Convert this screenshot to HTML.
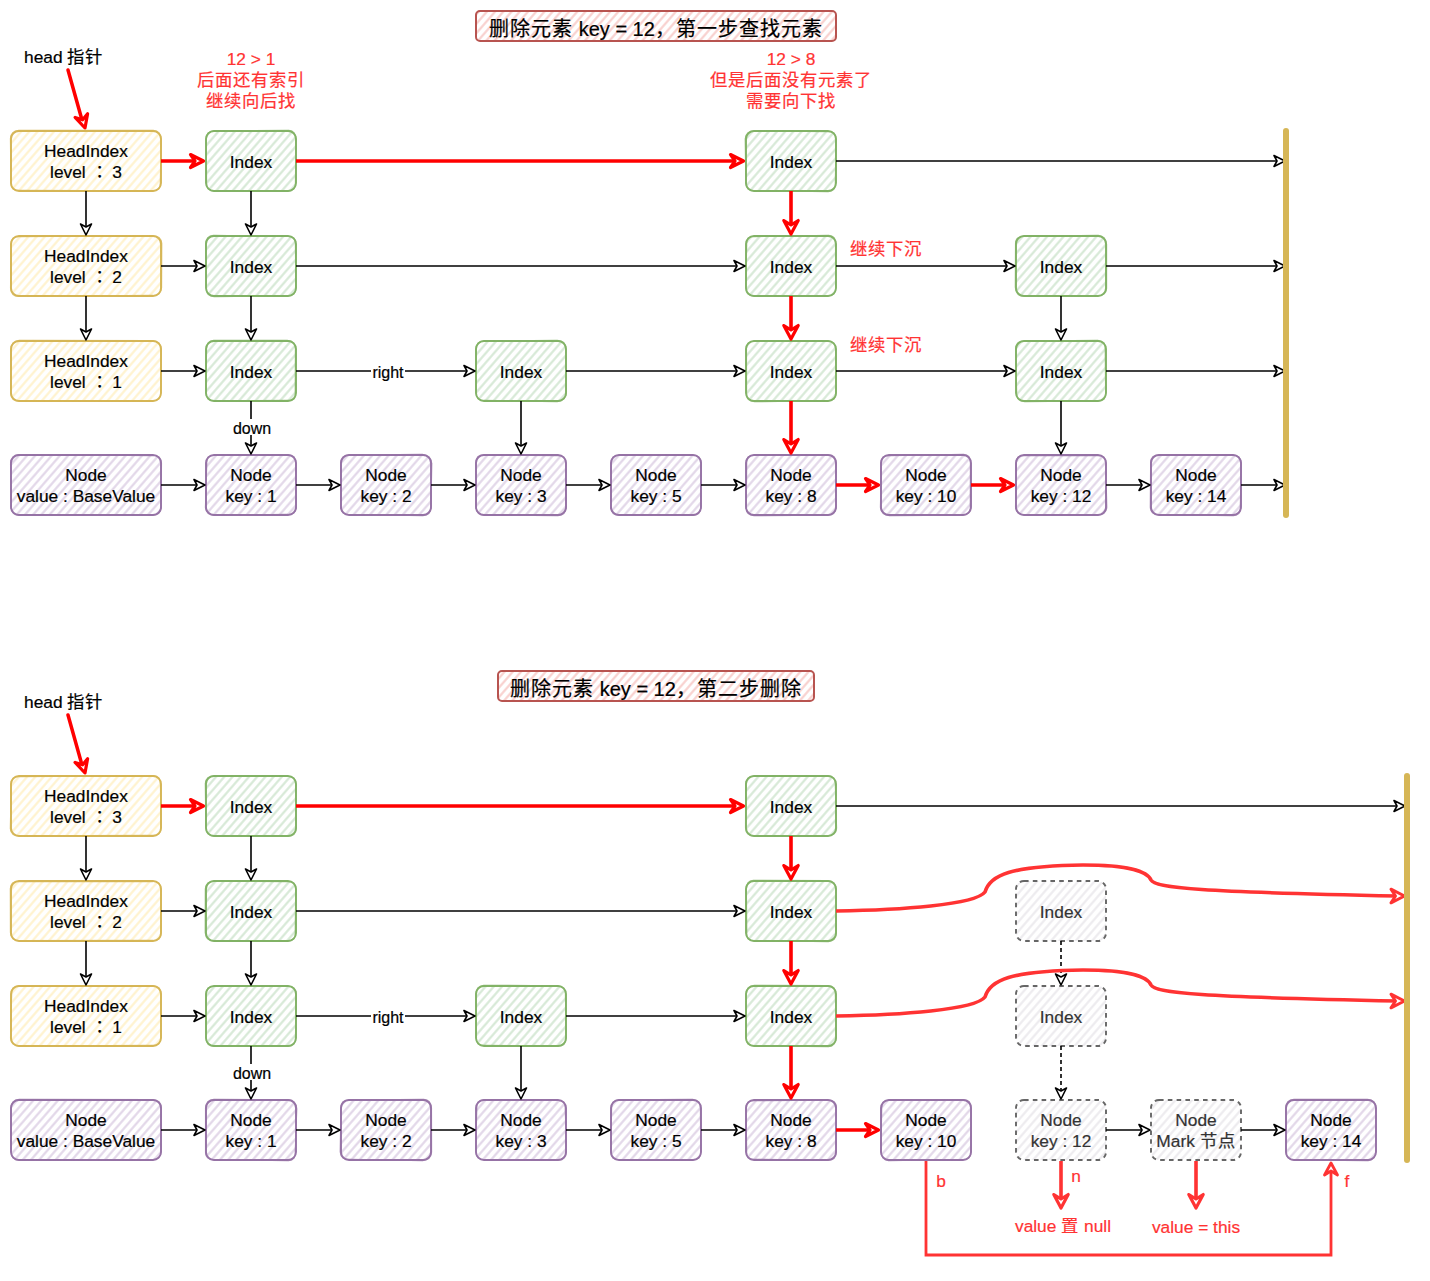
<!DOCTYPE html>
<html lang="zh-CN"><head><meta charset="utf-8"><title>skiplist delete</title>
<style>html,body{margin:0;padding:0;background:#fff;width:1430px;height:1281px;overflow:hidden;position:relative}</style>
</head><body>
<svg width="1430" height="1281" viewBox="0 0 1430 1281" style="position:absolute;left:0;top:0">
<defs>
<pattern id="hy" patternUnits="userSpaceOnUse" width="6.2" height="6.2" patternTransform="rotate(41)"><line x1="3.1" y1="-1" x2="3.1" y2="8" stroke="#fff2cc" stroke-width="2.1"/></pattern>
<pattern id="hg" patternUnits="userSpaceOnUse" width="6.2" height="6.2" patternTransform="rotate(41)"><line x1="3.1" y1="-1" x2="3.1" y2="8" stroke="#d5e8d4" stroke-width="2.1"/></pattern>
<pattern id="hp" patternUnits="userSpaceOnUse" width="6.2" height="6.2" patternTransform="rotate(41)"><line x1="3.1" y1="-1" x2="3.1" y2="8" stroke="#e1d5e7" stroke-width="2.1"/></pattern>
<pattern id="hr" patternUnits="userSpaceOnUse" width="6.2" height="6.2" patternTransform="rotate(41)"><line x1="3.1" y1="-1" x2="3.1" y2="8" stroke="#f8cecc" stroke-width="2.1"/></pattern>
<pattern id="hd" patternUnits="userSpaceOnUse" width="6.2" height="6.2" patternTransform="rotate(41)"><line x1="3.1" y1="-1" x2="3.1" y2="8" stroke="#eceaee" stroke-width="2.1"/></pattern>
</defs>
<style>text{stroke:currentColor;stroke-width:0.2px;paint-order:stroke}</style>
<g font-family='"Liberation Sans", sans-serif'>
<rect x="476" y="11" width="360" height="30" rx="4" fill="url(#hr)" stroke="#b85450" stroke-width="2"/>
<text x="656" y="35.5" fill="#000" color="#000" font-size="20" text-anchor="middle"><tspan letter-spacing="1.0">删除元素</tspan> key = 12<tspan letter-spacing="1.0">，第一步查找元素</tspan></text>
<rect x="498" y="671" width="316" height="30" rx="4" fill="url(#hr)" stroke="#b85450" stroke-width="2"/>
<text x="656" y="695.5" fill="#000" color="#000" font-size="20" text-anchor="middle"><tspan letter-spacing="1.0">删除元素</tspan> key = 12<tspan letter-spacing="1.0">，第二步删除</tspan></text>
<text x="251" y="64.92" fill="#ff3333" color="#ff3333" font-size="17.33" text-anchor="middle">12 &gt; 1</text>
<text x="251" y="85.72" fill="#ff3333" color="#ff3333" font-size="17.33" text-anchor="middle"><tspan letter-spacing="1.0">后面还有索引</tspan></text>
<text x="251" y="106.51" fill="#ff3333" color="#ff3333" font-size="17.33" text-anchor="middle"><tspan letter-spacing="1.0">继续向后找</tspan></text>
<text x="791" y="64.92" fill="#ff3333" color="#ff3333" font-size="17.33" text-anchor="middle">12 &gt; 8</text>
<text x="791" y="85.72" fill="#ff3333" color="#ff3333" font-size="17.33" text-anchor="middle"><tspan letter-spacing="1.0">但是后面没有元素了</tspan></text>
<text x="791" y="106.51" fill="#ff3333" color="#ff3333" font-size="17.33" text-anchor="middle"><tspan letter-spacing="1.0">需要向下找</tspan></text>
<text x="886" y="254.72" fill="#ff3333" color="#ff3333" font-size="17.33" text-anchor="middle"><tspan letter-spacing="1.0">继续下沉</tspan></text>
<text x="886" y="350.72" fill="#ff3333" color="#ff3333" font-size="17.33" text-anchor="middle"><tspan letter-spacing="1.0">继续下沉</tspan></text>
<text x="24" y="62.5" fill="#000" color="#000" font-size="17.33">head <tspan letter-spacing="1.0">指针</tspan></text>
<line x1="68" y1="70" x2="82" y2="120" stroke="#ff0000" stroke-width="3.5" stroke-linecap="round"/>
<path d="M85.0,128.0 L75.1,117.4 L82.6,119.8 L87.6,113.7 Z" fill="#fff" stroke="#ff0000" stroke-width="3.2" stroke-linejoin="round"/>
<rect x="11" y="131" width="150" height="60" rx="8" fill="url(#hy)" stroke="#d6b656" stroke-width="1.9"/>
<path d="M18.7,130.4 L153.2,130.3 Q161.0,131.0 161.1,138.8 L160.3,183.0 Q161.0,191.0 152.3,190.9 L18.3,190.3 Q11.0,191.0 10.9,183.5 L10.4,138.6 Q11.0,131.0 18.7,130.4 Z" fill="none" stroke="#d6b656" stroke-width="1.1" opacity="0.85"/>
<text x="86.0" y="157.32" fill="#000" color="#000" font-size="17.33" text-anchor="middle">HeadIndex</text>
<text x="86.0" y="178.12" fill="#000" color="#000" font-size="17.33" text-anchor="middle">level <tspan lang="zh-TW">：</tspan> 3</text>
<rect x="11" y="236" width="150" height="60" rx="8" fill="url(#hy)" stroke="#d6b656" stroke-width="1.9"/>
<path d="M19.2,236.7 L153.1,235.8 Q161.0,236.0 161.8,243.3 L161.6,287.7 Q161.0,296.0 152.4,295.4 L18.7,296.5 Q11.0,296.0 10.5,288.1 L11.2,243.8 Q11.0,236.0 19.2,236.7 Z" fill="none" stroke="#d6b656" stroke-width="1.1" opacity="0.85"/>
<text x="86.0" y="262.32" fill="#000" color="#000" font-size="17.33" text-anchor="middle">HeadIndex</text>
<text x="86.0" y="283.12" fill="#000" color="#000" font-size="17.33" text-anchor="middle">level <tspan lang="zh-TW">：</tspan> 2</text>
<rect x="11" y="341" width="150" height="60" rx="8" fill="url(#hy)" stroke="#d6b656" stroke-width="1.9"/>
<path d="M19.1,340.3 L152.3,340.5 Q161.0,341.0 161.3,348.9 L160.7,393.1 Q161.0,401.0 152.9,400.7 L19.5,401.3 Q11.0,401.0 10.6,393.1 L11.0,349.6 Q11.0,341.0 19.1,340.3 Z" fill="none" stroke="#d6b656" stroke-width="1.1" opacity="0.85"/>
<text x="86.0" y="367.32" fill="#000" color="#000" font-size="17.33" text-anchor="middle">HeadIndex</text>
<text x="86.0" y="388.12" fill="#000" color="#000" font-size="17.33" text-anchor="middle">level <tspan lang="zh-TW">：</tspan> 1</text>
<line x1="86" y1="191" x2="86" y2="230" stroke="#000" stroke-width="1.6"/>
<path d="M86.0,235.0 L80.5,224.0 L86.0,227.0 L91.5,224.0 Z" fill="#fff" stroke="#000" stroke-width="1.6" stroke-linejoin="round"/>
<line x1="86" y1="296" x2="86" y2="335" stroke="#000" stroke-width="1.6"/>
<path d="M86.0,340.0 L80.5,329.0 L86.0,332.0 L91.5,329.0 Z" fill="#fff" stroke="#000" stroke-width="1.6" stroke-linejoin="round"/>
<rect x="206" y="131" width="90" height="60" rx="8" fill="url(#hg)" stroke="#82b366" stroke-width="1.9"/>
<path d="M214.4,130.7 L288.8,130.4 Q296.0,131.0 295.9,139.4 L295.4,183.0 Q296.0,191.0 287.3,191.3 L214.4,191.1 Q206.0,191.0 206.6,182.7 L206.3,139.2 Q206.0,131.0 214.4,130.7 Z" fill="none" stroke="#82b366" stroke-width="1.1" opacity="0.85"/>
<text x="251.0" y="167.72" fill="#000" color="#000" font-size="17.33" text-anchor="middle">Index</text>
<rect x="746" y="131" width="90" height="60" rx="8" fill="url(#hg)" stroke="#82b366" stroke-width="1.9"/>
<path d="M754.1,130.9 L828.5,131.7 Q836.0,131.0 836.0,139.3 L835.3,183.3 Q836.0,191.0 828.2,191.8 L754.5,190.7 Q746.0,191.0 745.8,183.3 L745.2,138.9 Q746.0,131.0 754.1,130.9 Z" fill="none" stroke="#82b366" stroke-width="1.1" opacity="0.85"/>
<text x="791.0" y="167.72" fill="#000" color="#000" font-size="17.33" text-anchor="middle">Index</text>
<rect x="206" y="236" width="90" height="60" rx="8" fill="url(#hg)" stroke="#82b366" stroke-width="1.9"/>
<path d="M213.5,235.4 L287.3,236.4 Q296.0,236.0 295.4,243.6 L295.8,288.6 Q296.0,296.0 287.3,295.9 L214.1,296.6 Q206.0,296.0 206.5,288.6 L205.6,243.9 Q206.0,236.0 213.5,235.4 Z" fill="none" stroke="#82b366" stroke-width="1.1" opacity="0.85"/>
<text x="251.0" y="272.72" fill="#000" color="#000" font-size="17.33" text-anchor="middle">Index</text>
<rect x="746" y="236" width="90" height="60" rx="8" fill="url(#hg)" stroke="#82b366" stroke-width="1.9"/>
<path d="M753.8,236.6 L828.7,235.4 Q836.0,236.0 835.5,243.6 L835.6,288.0 Q836.0,296.0 828.1,295.6 L753.2,295.9 Q746.0,296.0 745.8,288.1 L746.7,244.3 Q746.0,236.0 753.8,236.6 Z" fill="none" stroke="#82b366" stroke-width="1.1" opacity="0.85"/>
<text x="791.0" y="272.72" fill="#000" color="#000" font-size="17.33" text-anchor="middle">Index</text>
<rect x="1016" y="236" width="90" height="60" rx="8" fill="url(#hg)" stroke="#82b366" stroke-width="1.9"/>
<path d="M1024.0,236.2 L1098.3,235.3 Q1106.0,236.0 1106.6,244.4 L1106.6,288.5 Q1106.0,296.0 1097.8,295.8 L1023.4,296.2 Q1016.0,296.0 1015.3,287.3 L1015.5,243.5 Q1016.0,236.0 1024.0,236.2 Z" fill="none" stroke="#82b366" stroke-width="1.1" opacity="0.85"/>
<text x="1061.0" y="272.72" fill="#000" color="#000" font-size="17.33" text-anchor="middle">Index</text>
<rect x="206" y="341" width="90" height="60" rx="8" fill="url(#hg)" stroke="#82b366" stroke-width="1.9"/>
<path d="M213.7,340.3 L287.2,340.4 Q296.0,341.0 295.4,348.8 L295.2,393.6 Q296.0,401.0 288.2,400.4 L213.6,400.8 Q206.0,401.0 205.8,392.4 L206.6,349.8 Q206.0,341.0 213.7,340.3 Z" fill="none" stroke="#82b366" stroke-width="1.1" opacity="0.85"/>
<text x="251.0" y="377.72" fill="#000" color="#000" font-size="17.33" text-anchor="middle">Index</text>
<rect x="476" y="341" width="90" height="60" rx="8" fill="url(#hg)" stroke="#82b366" stroke-width="1.9"/>
<path d="M483.9,341.0 L557.3,340.4 Q566.0,341.0 565.7,348.6 L566.5,392.5 Q566.0,401.0 557.2,401.7 L484.0,400.4 Q476.0,401.0 476.1,392.2 L476.0,349.8 Q476.0,341.0 483.9,341.0 Z" fill="none" stroke="#82b366" stroke-width="1.1" opacity="0.85"/>
<text x="521.0" y="377.72" fill="#000" color="#000" font-size="17.33" text-anchor="middle">Index</text>
<rect x="746" y="341" width="90" height="60" rx="8" fill="url(#hg)" stroke="#82b366" stroke-width="1.9"/>
<path d="M754.6,341.3 L827.6,340.8 Q836.0,341.0 835.5,349.4 L836.1,393.4 Q836.0,401.0 827.7,400.6 L754.5,401.8 Q746.0,401.0 746.6,393.5 L746.5,349.4 Q746.0,341.0 754.6,341.3 Z" fill="none" stroke="#82b366" stroke-width="1.1" opacity="0.85"/>
<text x="791.0" y="377.72" fill="#000" color="#000" font-size="17.33" text-anchor="middle">Index</text>
<rect x="1016" y="341" width="90" height="60" rx="8" fill="url(#hg)" stroke="#82b366" stroke-width="1.9"/>
<path d="M1023.6,341.0 L1097.8,340.2 Q1106.0,341.0 1105.2,348.6 L1105.6,393.3 Q1106.0,401.0 1098.7,400.9 L1024.7,401.8 Q1016.0,401.0 1016.7,392.8 L1015.6,348.6 Q1016.0,341.0 1023.6,341.0 Z" fill="none" stroke="#82b366" stroke-width="1.1" opacity="0.85"/>
<text x="1061.0" y="377.72" fill="#000" color="#000" font-size="17.33" text-anchor="middle">Index</text>
<rect x="11" y="455" width="150" height="60" rx="8" fill="url(#hp)" stroke="#9673a6" stroke-width="1.9"/>
<path d="M18.5,454.5 L153.2,455.6 Q161.0,455.0 161.5,463.0 L161.2,507.5 Q161.0,515.0 152.3,515.3 L19.7,515.5 Q11.0,515.0 11.4,507.0 L10.5,463.5 Q11.0,455.0 18.5,454.5 Z" fill="none" stroke="#9673a6" stroke-width="1.1" opacity="0.85"/>
<text x="86.0" y="481.32" fill="#000" color="#000" font-size="17.33" text-anchor="middle">Node</text>
<text x="86.0" y="502.12" fill="#000" color="#000" font-size="17.33" text-anchor="middle">value : BaseValue</text>
<rect x="206" y="455" width="90" height="60" rx="8" fill="url(#hp)" stroke="#9673a6" stroke-width="1.9"/>
<path d="M213.7,455.5 L288.8,454.8 Q296.0,455.0 295.8,463.7 L296.4,506.5 Q296.0,515.0 287.4,514.4 L214.6,515.5 Q206.0,515.0 205.4,507.5 L206.8,463.3 Q206.0,455.0 213.7,455.5 Z" fill="none" stroke="#9673a6" stroke-width="1.1" opacity="0.85"/>
<text x="251.0" y="481.32" fill="#000" color="#000" font-size="17.33" text-anchor="middle">Node</text>
<text x="251.0" y="502.12" fill="#000" color="#000" font-size="17.33" text-anchor="middle">key : 1</text>
<rect x="341" y="455" width="90" height="60" rx="8" fill="url(#hp)" stroke="#9673a6" stroke-width="1.9"/>
<path d="M348.8,455.1 L422.4,454.2 Q431.0,455.0 431.8,463.2 L431.0,507.7 Q431.0,515.0 422.9,515.6 L349.5,514.5 Q341.0,515.0 340.6,506.7 L340.6,463.1 Q341.0,455.0 348.8,455.1 Z" fill="none" stroke="#9673a6" stroke-width="1.1" opacity="0.85"/>
<text x="386.0" y="481.32" fill="#000" color="#000" font-size="17.33" text-anchor="middle">Node</text>
<text x="386.0" y="502.12" fill="#000" color="#000" font-size="17.33" text-anchor="middle">key : 2</text>
<rect x="476" y="455" width="90" height="60" rx="8" fill="url(#hp)" stroke="#9673a6" stroke-width="1.9"/>
<path d="M483.6,454.9 L557.4,455.7 Q566.0,455.0 565.8,462.9 L566.1,507.6 Q566.0,515.0 557.9,515.7 L484.0,515.1 Q476.0,515.0 476.0,506.2 L475.9,462.5 Q476.0,455.0 483.6,454.9 Z" fill="none" stroke="#9673a6" stroke-width="1.1" opacity="0.85"/>
<text x="521.0" y="481.32" fill="#000" color="#000" font-size="17.33" text-anchor="middle">Node</text>
<text x="521.0" y="502.12" fill="#000" color="#000" font-size="17.33" text-anchor="middle">key : 3</text>
<rect x="611" y="455" width="90" height="60" rx="8" fill="url(#hp)" stroke="#9673a6" stroke-width="1.9"/>
<path d="M618.2,455.5 L692.5,455.0 Q701.0,455.0 701.4,463.1 L700.7,507.0 Q701.0,515.0 693.1,515.5 L618.4,515.1 Q611.0,515.0 610.6,506.6 L611.4,463.0 Q611.0,455.0 618.2,455.5 Z" fill="none" stroke="#9673a6" stroke-width="1.1" opacity="0.85"/>
<text x="656.0" y="481.32" fill="#000" color="#000" font-size="17.33" text-anchor="middle">Node</text>
<text x="656.0" y="502.12" fill="#000" color="#000" font-size="17.33" text-anchor="middle">key : 5</text>
<rect x="746" y="455" width="90" height="60" rx="8" fill="url(#hp)" stroke="#9673a6" stroke-width="1.9"/>
<path d="M754.1,455.4 L828.7,454.9 Q836.0,455.0 836.2,463.0 L836.0,507.3 Q836.0,515.0 827.9,515.1 L754.0,515.7 Q746.0,515.0 746.3,507.6 L746.7,462.6 Q746.0,455.0 754.1,455.4 Z" fill="none" stroke="#9673a6" stroke-width="1.1" opacity="0.85"/>
<text x="791.0" y="481.32" fill="#000" color="#000" font-size="17.33" text-anchor="middle">Node</text>
<text x="791.0" y="502.12" fill="#000" color="#000" font-size="17.33" text-anchor="middle">key : 8</text>
<rect x="881" y="455" width="90" height="60" rx="8" fill="url(#hp)" stroke="#9673a6" stroke-width="1.9"/>
<path d="M889.1,455.7 L963.5,454.4 Q971.0,455.0 970.4,462.9 L970.3,506.6 Q971.0,515.0 962.3,515.3 L889.5,515.6 Q881.0,515.0 880.4,507.3 L881.3,462.4 Q881.0,455.0 889.1,455.7 Z" fill="none" stroke="#9673a6" stroke-width="1.1" opacity="0.85"/>
<text x="926.0" y="481.32" fill="#000" color="#000" font-size="17.33" text-anchor="middle">Node</text>
<text x="926.0" y="502.12" fill="#000" color="#000" font-size="17.33" text-anchor="middle">key : 10</text>
<rect x="1016" y="455" width="90" height="60" rx="8" fill="url(#hp)" stroke="#9673a6" stroke-width="1.9"/>
<path d="M1024.6,455.7 L1097.6,455.7 Q1106.0,455.0 1105.8,463.0 L1106.8,507.5 Q1106.0,515.0 1097.5,514.9 L1024.0,514.7 Q1016.0,515.0 1015.5,506.7 L1016.4,462.2 Q1016.0,455.0 1024.6,455.7 Z" fill="none" stroke="#9673a6" stroke-width="1.1" opacity="0.85"/>
<text x="1061.0" y="481.32" fill="#000" color="#000" font-size="17.33" text-anchor="middle">Node</text>
<text x="1061.0" y="502.12" fill="#000" color="#000" font-size="17.33" text-anchor="middle">key : 12</text>
<rect x="1151" y="455" width="90" height="60" rx="8" fill="url(#hp)" stroke="#9673a6" stroke-width="1.9"/>
<path d="M1159.1,454.9 L1232.2,454.7 Q1241.0,455.0 1241.2,463.0 L1240.3,507.8 Q1241.0,515.0 1233.5,515.8 L1158.4,514.6 Q1151.0,515.0 1150.3,507.4 L1150.6,462.4 Q1151.0,455.0 1159.1,454.9 Z" fill="none" stroke="#9673a6" stroke-width="1.1" opacity="0.85"/>
<text x="1196.0" y="481.32" fill="#000" color="#000" font-size="17.33" text-anchor="middle">Node</text>
<text x="1196.0" y="502.12" fill="#000" color="#000" font-size="17.33" text-anchor="middle">key : 14</text>
<line x1="161" y1="161" x2="196" y2="161" stroke="#ff0000" stroke-width="3.6"/>
<path d="M203.5,161.0 L190.5,167.5 L195.0,161.0 L190.5,154.5 Z" fill="#fff" stroke="#ff0000" stroke-width="3.2" stroke-linejoin="round"/>
<line x1="296" y1="161" x2="736" y2="161" stroke="#ff0000" stroke-width="3.6"/>
<path d="M743.5,161.0 L730.5,167.5 L735.0,161.0 L730.5,154.5 Z" fill="#fff" stroke="#ff0000" stroke-width="3.2" stroke-linejoin="round"/>
<line x1="836" y1="161" x2="1280" y2="161" stroke="#000" stroke-width="1.6"/>
<path d="M1285.0,161.0 L1274.0,166.5 L1277.0,161.0 L1274.0,155.5 Z" fill="#fff" stroke="#000" stroke-width="1.6" stroke-linejoin="round"/>
<line x1="251" y1="191" x2="251" y2="230" stroke="#000" stroke-width="1.6"/>
<path d="M251.0,235.0 L245.5,224.0 L251.0,227.0 L256.5,224.0 Z" fill="#fff" stroke="#000" stroke-width="1.6" stroke-linejoin="round"/>
<line x1="251" y1="296" x2="251" y2="335" stroke="#000" stroke-width="1.6"/>
<path d="M251.0,340.0 L245.5,329.0 L251.0,332.0 L256.5,329.0 Z" fill="#fff" stroke="#000" stroke-width="1.6" stroke-linejoin="round"/>
<line x1="251" y1="401" x2="251" y2="449" stroke="#000" stroke-width="1.6"/>
<path d="M251.0,454.0 L245.5,443.0 L251.0,446.0 L256.5,443.0 Z" fill="#fff" stroke="#000" stroke-width="1.6" stroke-linejoin="round"/>
<rect x="232" y="419" width="40" height="16" fill="#fff"/>
<text x="252" y="433.5" fill="#000" color="#000" font-size="16" text-anchor="middle">down</text>
<line x1="791" y1="191" x2="791" y2="226" stroke="#ff0000" stroke-width="3.6"/>
<path d="M791.0,234.0 L783.8,220.5 L791.0,225.0 L798.2,220.5 Z" fill="#fff" stroke="#ff0000" stroke-width="3.2" stroke-linejoin="round"/>
<line x1="791" y1="296" x2="791" y2="331" stroke="#ff0000" stroke-width="3.6"/>
<path d="M791.0,339.0 L783.8,325.5 L791.0,330.0 L798.2,325.5 Z" fill="#fff" stroke="#ff0000" stroke-width="3.2" stroke-linejoin="round"/>
<line x1="791" y1="401" x2="791" y2="445" stroke="#ff0000" stroke-width="3.6"/>
<path d="M791.0,453.0 L783.8,439.5 L791.0,444.0 L798.2,439.5 Z" fill="#fff" stroke="#ff0000" stroke-width="3.2" stroke-linejoin="round"/>
<line x1="521" y1="401" x2="521" y2="449" stroke="#000" stroke-width="1.6"/>
<path d="M521.0,454.0 L515.5,443.0 L521.0,446.0 L526.5,443.0 Z" fill="#fff" stroke="#000" stroke-width="1.6" stroke-linejoin="round"/>
<line x1="161" y1="266" x2="200" y2="266" stroke="#000" stroke-width="1.6"/>
<path d="M205.0,266.0 L194.0,271.5 L197.0,266.0 L194.0,260.5 Z" fill="#fff" stroke="#000" stroke-width="1.6" stroke-linejoin="round"/>
<line x1="296" y1="266" x2="740" y2="266" stroke="#000" stroke-width="1.6"/>
<path d="M745.0,266.0 L734.0,271.5 L737.0,266.0 L734.0,260.5 Z" fill="#fff" stroke="#000" stroke-width="1.6" stroke-linejoin="round"/>
<line x1="161" y1="371" x2="200" y2="371" stroke="#000" stroke-width="1.6"/>
<path d="M205.0,371.0 L194.0,376.5 L197.0,371.0 L194.0,365.5 Z" fill="#fff" stroke="#000" stroke-width="1.6" stroke-linejoin="round"/>
<line x1="296" y1="371" x2="470" y2="371" stroke="#000" stroke-width="1.6"/>
<path d="M475.0,371.0 L464.0,376.5 L467.0,371.0 L464.0,365.5 Z" fill="#fff" stroke="#000" stroke-width="1.6" stroke-linejoin="round"/>
<rect x="371" y="362" width="34" height="18" fill="#fff"/>
<text x="388" y="377.8" fill="#000" color="#000" font-size="16" text-anchor="middle">right</text>
<line x1="566" y1="371" x2="740" y2="371" stroke="#000" stroke-width="1.6"/>
<path d="M745.0,371.0 L734.0,376.5 L737.0,371.0 L734.0,365.5 Z" fill="#fff" stroke="#000" stroke-width="1.6" stroke-linejoin="round"/>
<line x1="836" y1="266" x2="1010" y2="266" stroke="#000" stroke-width="1.6"/>
<path d="M1015.0,266.0 L1004.0,271.5 L1007.0,266.0 L1004.0,260.5 Z" fill="#fff" stroke="#000" stroke-width="1.6" stroke-linejoin="round"/>
<line x1="1106" y1="266" x2="1280" y2="266" stroke="#000" stroke-width="1.6"/>
<path d="M1285.0,266.0 L1274.0,271.5 L1277.0,266.0 L1274.0,260.5 Z" fill="#fff" stroke="#000" stroke-width="1.6" stroke-linejoin="round"/>
<line x1="836" y1="371" x2="1010" y2="371" stroke="#000" stroke-width="1.6"/>
<path d="M1015.0,371.0 L1004.0,376.5 L1007.0,371.0 L1004.0,365.5 Z" fill="#fff" stroke="#000" stroke-width="1.6" stroke-linejoin="round"/>
<line x1="1106" y1="371" x2="1280" y2="371" stroke="#000" stroke-width="1.6"/>
<path d="M1285.0,371.0 L1274.0,376.5 L1277.0,371.0 L1274.0,365.5 Z" fill="#fff" stroke="#000" stroke-width="1.6" stroke-linejoin="round"/>
<line x1="1061" y1="296" x2="1061" y2="335" stroke="#000" stroke-width="1.6"/>
<path d="M1061.0,340.0 L1055.5,329.0 L1061.0,332.0 L1066.5,329.0 Z" fill="#fff" stroke="#000" stroke-width="1.6" stroke-linejoin="round"/>
<line x1="1061" y1="401" x2="1061" y2="449" stroke="#000" stroke-width="1.6"/>
<path d="M1061.0,454.0 L1055.5,443.0 L1061.0,446.0 L1066.5,443.0 Z" fill="#fff" stroke="#000" stroke-width="1.6" stroke-linejoin="round"/>
<line x1="161" y1="485" x2="200" y2="485" stroke="#000" stroke-width="1.6"/>
<path d="M205.0,485.0 L194.0,490.5 L197.0,485.0 L194.0,479.5 Z" fill="#fff" stroke="#000" stroke-width="1.6" stroke-linejoin="round"/>
<line x1="296" y1="485" x2="335" y2="485" stroke="#000" stroke-width="1.6"/>
<path d="M340.0,485.0 L329.0,490.5 L332.0,485.0 L329.0,479.5 Z" fill="#fff" stroke="#000" stroke-width="1.6" stroke-linejoin="round"/>
<line x1="431" y1="485" x2="470" y2="485" stroke="#000" stroke-width="1.6"/>
<path d="M475.0,485.0 L464.0,490.5 L467.0,485.0 L464.0,479.5 Z" fill="#fff" stroke="#000" stroke-width="1.6" stroke-linejoin="round"/>
<line x1="566" y1="485" x2="605" y2="485" stroke="#000" stroke-width="1.6"/>
<path d="M610.0,485.0 L599.0,490.5 L602.0,485.0 L599.0,479.5 Z" fill="#fff" stroke="#000" stroke-width="1.6" stroke-linejoin="round"/>
<line x1="701" y1="485" x2="740" y2="485" stroke="#000" stroke-width="1.6"/>
<path d="M745.0,485.0 L734.0,490.5 L737.0,485.0 L734.0,479.5 Z" fill="#fff" stroke="#000" stroke-width="1.6" stroke-linejoin="round"/>
<line x1="1106" y1="485" x2="1145" y2="485" stroke="#000" stroke-width="1.6"/>
<path d="M1150.0,485.0 L1139.0,490.5 L1142.0,485.0 L1139.0,479.5 Z" fill="#fff" stroke="#000" stroke-width="1.6" stroke-linejoin="round"/>
<line x1="1241" y1="485" x2="1280" y2="485" stroke="#000" stroke-width="1.6"/>
<path d="M1285.0,485.0 L1274.0,490.5 L1277.0,485.0 L1274.0,479.5 Z" fill="#fff" stroke="#000" stroke-width="1.6" stroke-linejoin="round"/>
<line x1="836" y1="485" x2="871" y2="485" stroke="#ff0000" stroke-width="3.6"/>
<path d="M878.5,485.0 L865.5,491.5 L870.0,485.0 L865.5,478.5 Z" fill="#fff" stroke="#ff0000" stroke-width="3.2" stroke-linejoin="round"/>
<line x1="971" y1="485" x2="1006" y2="485" stroke="#ff0000" stroke-width="3.6"/>
<path d="M1013.5,485.0 L1000.5,491.5 L1005.0,485.0 L1000.5,478.5 Z" fill="#fff" stroke="#ff0000" stroke-width="3.2" stroke-linejoin="round"/>
<line x1="1286" y1="131" x2="1286" y2="515" stroke="#d6b656" stroke-width="6" stroke-linecap="round"/>
<text x="24" y="707.5" fill="#000" color="#000" font-size="17.33">head <tspan letter-spacing="1.0">指针</tspan></text>
<line x1="68" y1="715" x2="82" y2="765" stroke="#ff0000" stroke-width="3.5" stroke-linecap="round"/>
<path d="M85.0,773.0 L75.1,762.4 L82.6,764.8 L87.6,758.7 Z" fill="#fff" stroke="#ff0000" stroke-width="3.2" stroke-linejoin="round"/>
<rect x="11" y="776" width="150" height="60" rx="8" fill="url(#hy)" stroke="#d6b656" stroke-width="1.9"/>
<path d="M18.9,776.7 L153.5,775.6 Q161.0,776.0 160.4,784.7 L161.1,828.3 Q161.0,836.0 152.3,835.3 L19.3,835.9 Q11.0,836.0 10.3,828.7 L11.2,784.5 Q11.0,776.0 18.9,776.7 Z" fill="none" stroke="#d6b656" stroke-width="1.1" opacity="0.85"/>
<text x="86.0" y="802.32" fill="#000" color="#000" font-size="17.33" text-anchor="middle">HeadIndex</text>
<text x="86.0" y="823.12" fill="#000" color="#000" font-size="17.33" text-anchor="middle">level <tspan lang="zh-TW">：</tspan> 3</text>
<rect x="11" y="881" width="150" height="60" rx="8" fill="url(#hy)" stroke="#d6b656" stroke-width="1.9"/>
<path d="M18.3,881.6 L152.3,881.6 Q161.0,881.0 160.9,888.7 L161.1,933.7 Q161.0,941.0 152.6,940.4 L19.0,940.6 Q11.0,941.0 10.4,932.5 L10.3,888.5 Q11.0,881.0 18.3,881.6 Z" fill="none" stroke="#d6b656" stroke-width="1.1" opacity="0.85"/>
<text x="86.0" y="907.32" fill="#000" color="#000" font-size="17.33" text-anchor="middle">HeadIndex</text>
<text x="86.0" y="928.12" fill="#000" color="#000" font-size="17.33" text-anchor="middle">level <tspan lang="zh-TW">：</tspan> 2</text>
<rect x="11" y="986" width="150" height="60" rx="8" fill="url(#hy)" stroke="#d6b656" stroke-width="1.9"/>
<path d="M18.7,985.7 L153.4,985.7 Q161.0,986.0 161.0,993.5 L160.8,1037.2 Q161.0,1046.0 152.6,1045.2 L19.4,1046.1 Q11.0,1046.0 10.5,1038.0 L11.7,993.4 Q11.0,986.0 18.7,985.7 Z" fill="none" stroke="#d6b656" stroke-width="1.1" opacity="0.85"/>
<text x="86.0" y="1012.32" fill="#000" color="#000" font-size="17.33" text-anchor="middle">HeadIndex</text>
<text x="86.0" y="1033.12" fill="#000" color="#000" font-size="17.33" text-anchor="middle">level <tspan lang="zh-TW">：</tspan> 1</text>
<line x1="86" y1="836" x2="86" y2="875" stroke="#000" stroke-width="1.6"/>
<path d="M86.0,880.0 L80.5,869.0 L86.0,872.0 L91.5,869.0 Z" fill="#fff" stroke="#000" stroke-width="1.6" stroke-linejoin="round"/>
<line x1="86" y1="941" x2="86" y2="980" stroke="#000" stroke-width="1.6"/>
<path d="M86.0,985.0 L80.5,974.0 L86.0,977.0 L91.5,974.0 Z" fill="#fff" stroke="#000" stroke-width="1.6" stroke-linejoin="round"/>
<rect x="206" y="776" width="90" height="60" rx="8" fill="url(#hg)" stroke="#82b366" stroke-width="1.9"/>
<path d="M214.5,775.9 L288.0,776.5 Q296.0,776.0 295.8,784.0 L296.3,828.8 Q296.0,836.0 287.7,836.5 L214.3,836.2 Q206.0,836.0 205.8,827.8 L205.3,783.4 Q206.0,776.0 214.5,775.9 Z" fill="none" stroke="#82b366" stroke-width="1.1" opacity="0.85"/>
<text x="251.0" y="812.72" fill="#000" color="#000" font-size="17.33" text-anchor="middle">Index</text>
<rect x="746" y="776" width="90" height="60" rx="8" fill="url(#hg)" stroke="#82b366" stroke-width="1.9"/>
<path d="M753.3,776.4 L827.6,775.5 Q836.0,776.0 835.3,784.5 L836.6,828.3 Q836.0,836.0 827.7,835.6 L753.7,835.9 Q746.0,836.0 745.5,827.9 L745.6,784.7 Q746.0,776.0 753.3,776.4 Z" fill="none" stroke="#82b366" stroke-width="1.1" opacity="0.85"/>
<text x="791.0" y="812.72" fill="#000" color="#000" font-size="17.33" text-anchor="middle">Index</text>
<rect x="206" y="881" width="90" height="60" rx="8" fill="url(#hg)" stroke="#82b366" stroke-width="1.9"/>
<path d="M214.8,881.1 L287.6,881.7 Q296.0,881.0 295.7,888.8 L295.2,932.8 Q296.0,941.0 288.0,941.0 L213.5,941.0 Q206.0,941.0 205.2,932.6 L205.3,888.8 Q206.0,881.0 214.8,881.1 Z" fill="none" stroke="#82b366" stroke-width="1.1" opacity="0.85"/>
<text x="251.0" y="917.72" fill="#000" color="#000" font-size="17.33" text-anchor="middle">Index</text>
<rect x="746" y="881" width="90" height="60" rx="8" fill="url(#hg)" stroke="#82b366" stroke-width="1.9"/>
<path d="M753.3,880.2 L827.7,880.6 Q836.0,881.0 836.1,889.0 L836.4,933.3 Q836.0,941.0 828.3,941.6 L753.8,940.7 Q746.0,941.0 746.8,932.4 L746.4,889.2 Q746.0,881.0 753.3,880.2 Z" fill="none" stroke="#82b366" stroke-width="1.1" opacity="0.85"/>
<text x="791.0" y="917.72" fill="#000" color="#000" font-size="17.33" text-anchor="middle">Index</text>
<rect x="206" y="986" width="90" height="60" rx="8" fill="url(#hg)" stroke="#82b366" stroke-width="1.9"/>
<path d="M213.3,986.5 L288.6,986.2 Q296.0,986.0 296.4,994.5 L295.4,1038.0 Q296.0,1046.0 288.0,1046.5 L214.5,1046.5 Q206.0,1046.0 206.1,1038.6 L206.3,994.3 Q206.0,986.0 213.3,986.5 Z" fill="none" stroke="#82b366" stroke-width="1.1" opacity="0.85"/>
<text x="251.0" y="1022.72" fill="#000" color="#000" font-size="17.33" text-anchor="middle">Index</text>
<rect x="476" y="986" width="90" height="60" rx="8" fill="url(#hg)" stroke="#82b366" stroke-width="1.9"/>
<path d="M483.6,985.2 L557.4,985.8 Q566.0,986.0 565.4,994.5 L566.1,1038.2 Q566.0,1046.0 558.2,1046.3 L484.0,1045.2 Q476.0,1046.0 476.5,1038.4 L476.0,994.1 Q476.0,986.0 483.6,985.2 Z" fill="none" stroke="#82b366" stroke-width="1.1" opacity="0.85"/>
<text x="521.0" y="1022.72" fill="#000" color="#000" font-size="17.33" text-anchor="middle">Index</text>
<rect x="746" y="986" width="90" height="60" rx="8" fill="url(#hg)" stroke="#82b366" stroke-width="1.9"/>
<path d="M754.3,985.3 L828.4,985.6 Q836.0,986.0 835.3,993.6 L836.4,1037.5 Q836.0,1046.0 828.4,1046.8 L754.0,1045.8 Q746.0,1046.0 746.0,1038.3 L746.4,994.2 Q746.0,986.0 754.3,985.3 Z" fill="none" stroke="#82b366" stroke-width="1.1" opacity="0.85"/>
<text x="791.0" y="1022.72" fill="#000" color="#000" font-size="17.33" text-anchor="middle">Index</text>
<rect x="1016" y="881" width="90" height="60" rx="8" fill="url(#hd)" stroke="#666666" stroke-width="1.9" stroke-dasharray="4.6 4.2"/>
<text x="1061.0" y="917.72" fill="#333" color="#333" font-size="17.33" text-anchor="middle">Index</text>
<rect x="1016" y="986" width="90" height="60" rx="8" fill="url(#hd)" stroke="#666666" stroke-width="1.9" stroke-dasharray="4.6 4.2"/>
<text x="1061.0" y="1022.72" fill="#333" color="#333" font-size="17.33" text-anchor="middle">Index</text>
<rect x="11" y="1100" width="150" height="60" rx="8" fill="url(#hp)" stroke="#9673a6" stroke-width="1.9"/>
<path d="M19.2,1099.3 L152.4,1099.6 Q161.0,1100.0 161.4,1107.7 L161.1,1151.2 Q161.0,1160.0 152.3,1159.6 L19.3,1160.3 Q11.0,1160.0 11.3,1151.7 L11.0,1107.9 Q11.0,1100.0 19.2,1099.3 Z" fill="none" stroke="#9673a6" stroke-width="1.1" opacity="0.85"/>
<text x="86.0" y="1126.32" fill="#000" color="#000" font-size="17.33" text-anchor="middle">Node</text>
<text x="86.0" y="1147.12" fill="#000" color="#000" font-size="17.33" text-anchor="middle">value : BaseValue</text>
<rect x="206" y="1100" width="90" height="60" rx="8" fill="url(#hp)" stroke="#9673a6" stroke-width="1.9"/>
<path d="M213.9,1099.4 L288.6,1099.5 Q296.0,1100.0 296.8,1108.7 L295.2,1151.9 Q296.0,1160.0 288.5,1160.7 L213.9,1159.6 Q206.0,1160.0 205.5,1152.7 L205.5,1108.1 Q206.0,1100.0 213.9,1099.4 Z" fill="none" stroke="#9673a6" stroke-width="1.1" opacity="0.85"/>
<text x="251.0" y="1126.32" fill="#000" color="#000" font-size="17.33" text-anchor="middle">Node</text>
<text x="251.0" y="1147.12" fill="#000" color="#000" font-size="17.33" text-anchor="middle">key : 1</text>
<rect x="341" y="1100" width="90" height="60" rx="8" fill="url(#hp)" stroke="#9673a6" stroke-width="1.9"/>
<path d="M348.4,1100.0 L423.7,1099.4 Q431.0,1100.0 431.5,1108.0 L431.6,1152.3 Q431.0,1160.0 422.6,1160.6 L349.0,1159.2 Q341.0,1160.0 340.2,1152.0 L340.9,1107.7 Q341.0,1100.0 348.4,1100.0 Z" fill="none" stroke="#9673a6" stroke-width="1.1" opacity="0.85"/>
<text x="386.0" y="1126.32" fill="#000" color="#000" font-size="17.33" text-anchor="middle">Node</text>
<text x="386.0" y="1147.12" fill="#000" color="#000" font-size="17.33" text-anchor="middle">key : 2</text>
<rect x="476" y="1100" width="90" height="60" rx="8" fill="url(#hp)" stroke="#9673a6" stroke-width="1.9"/>
<path d="M483.4,1099.8 L557.7,1100.5 Q566.0,1100.0 565.2,1108.4 L566.5,1151.4 Q566.0,1160.0 558.7,1160.3 L484.6,1159.7 Q476.0,1160.0 475.8,1151.8 L476.8,1108.1 Q476.0,1100.0 483.4,1099.8 Z" fill="none" stroke="#9673a6" stroke-width="1.1" opacity="0.85"/>
<text x="521.0" y="1126.32" fill="#000" color="#000" font-size="17.33" text-anchor="middle">Node</text>
<text x="521.0" y="1147.12" fill="#000" color="#000" font-size="17.33" text-anchor="middle">key : 3</text>
<rect x="611" y="1100" width="90" height="60" rx="8" fill="url(#hp)" stroke="#9673a6" stroke-width="1.9"/>
<path d="M618.8,1099.9 L692.6,1099.3 Q701.0,1100.0 700.4,1108.5 L700.7,1152.7 Q701.0,1160.0 692.6,1159.6 L619.0,1159.5 Q611.0,1160.0 610.8,1152.7 L611.6,1108.5 Q611.0,1100.0 618.8,1099.9 Z" fill="none" stroke="#9673a6" stroke-width="1.1" opacity="0.85"/>
<text x="656.0" y="1126.32" fill="#000" color="#000" font-size="17.33" text-anchor="middle">Node</text>
<text x="656.0" y="1147.12" fill="#000" color="#000" font-size="17.33" text-anchor="middle">key : 5</text>
<rect x="746" y="1100" width="90" height="60" rx="8" fill="url(#hp)" stroke="#9673a6" stroke-width="1.9"/>
<path d="M754.2,1100.7 L828.7,1100.1 Q836.0,1100.0 836.4,1107.3 L836.4,1151.9 Q836.0,1160.0 828.4,1160.2 L753.7,1159.3 Q746.0,1160.0 746.7,1151.4 L746.0,1107.7 Q746.0,1100.0 754.2,1100.7 Z" fill="none" stroke="#9673a6" stroke-width="1.1" opacity="0.85"/>
<text x="791.0" y="1126.32" fill="#000" color="#000" font-size="17.33" text-anchor="middle">Node</text>
<text x="791.0" y="1147.12" fill="#000" color="#000" font-size="17.33" text-anchor="middle">key : 8</text>
<rect x="881" y="1100" width="90" height="60" rx="8" fill="url(#hp)" stroke="#9673a6" stroke-width="1.9"/>
<path d="M888.7,1100.4 L963.8,1099.6 Q971.0,1100.0 971.2,1107.7 L971.1,1151.8 Q971.0,1160.0 962.5,1159.5 L888.5,1160.6 Q881.0,1160.0 881.0,1151.6 L881.7,1108.8 Q881.0,1100.0 888.7,1100.4 Z" fill="none" stroke="#9673a6" stroke-width="1.1" opacity="0.85"/>
<text x="926.0" y="1126.32" fill="#000" color="#000" font-size="17.33" text-anchor="middle">Node</text>
<text x="926.0" y="1147.12" fill="#000" color="#000" font-size="17.33" text-anchor="middle">key : 10</text>
<rect x="1016" y="1100" width="90" height="60" rx="8" fill="url(#hd)" stroke="#666666" stroke-width="1.9" stroke-dasharray="4.6 4.2"/>
<text x="1061.0" y="1126.32" fill="#333" color="#333" font-size="17.33" text-anchor="middle">Node</text>
<text x="1061.0" y="1147.12" fill="#333" color="#333" font-size="17.33" text-anchor="middle">key : 12</text>
<rect x="1151" y="1100" width="90" height="60" rx="8" fill="url(#hd)" stroke="#666666" stroke-width="1.9" stroke-dasharray="4.6 4.2"/>
<text x="1196.0" y="1126.32" fill="#333" color="#333" font-size="17.33" text-anchor="middle">Node</text>
<text x="1196.0" y="1147.12" fill="#333" color="#333" font-size="17.33" text-anchor="middle">Mark <tspan letter-spacing="1.0">节点</tspan></text>
<rect x="1286" y="1100" width="90" height="60" rx="8" fill="url(#hp)" stroke="#9673a6" stroke-width="1.9"/>
<path d="M1293.9,1099.4 L1367.5,1099.3 Q1376.0,1100.0 1375.7,1107.3 L1375.6,1151.6 Q1376.0,1160.0 1368.1,1160.6 L1294.4,1159.9 Q1286.0,1160.0 1285.9,1152.0 L1285.8,1107.7 Q1286.0,1100.0 1293.9,1099.4 Z" fill="none" stroke="#9673a6" stroke-width="1.1" opacity="0.85"/>
<text x="1331.0" y="1126.32" fill="#000" color="#000" font-size="17.33" text-anchor="middle">Node</text>
<text x="1331.0" y="1147.12" fill="#000" color="#000" font-size="17.33" text-anchor="middle">key : 14</text>
<line x1="161" y1="806" x2="196" y2="806" stroke="#ff0000" stroke-width="3.6"/>
<path d="M203.5,806.0 L190.5,812.5 L195.0,806.0 L190.5,799.5 Z" fill="#fff" stroke="#ff0000" stroke-width="3.2" stroke-linejoin="round"/>
<line x1="296" y1="806" x2="736" y2="806" stroke="#ff0000" stroke-width="3.6"/>
<path d="M743.5,806.0 L730.5,812.5 L735.0,806.0 L730.5,799.5 Z" fill="#fff" stroke="#ff0000" stroke-width="3.2" stroke-linejoin="round"/>
<line x1="836" y1="806" x2="1400" y2="806" stroke="#000" stroke-width="1.6"/>
<path d="M1405.0,806.0 L1394.0,811.5 L1397.0,806.0 L1394.0,800.5 Z" fill="#fff" stroke="#000" stroke-width="1.6" stroke-linejoin="round"/>
<line x1="251" y1="836" x2="251" y2="875" stroke="#000" stroke-width="1.6"/>
<path d="M251.0,880.0 L245.5,869.0 L251.0,872.0 L256.5,869.0 Z" fill="#fff" stroke="#000" stroke-width="1.6" stroke-linejoin="round"/>
<line x1="251" y1="941" x2="251" y2="980" stroke="#000" stroke-width="1.6"/>
<path d="M251.0,985.0 L245.5,974.0 L251.0,977.0 L256.5,974.0 Z" fill="#fff" stroke="#000" stroke-width="1.6" stroke-linejoin="round"/>
<line x1="251" y1="1046" x2="251" y2="1094" stroke="#000" stroke-width="1.6"/>
<path d="M251.0,1099.0 L245.5,1088.0 L251.0,1091.0 L256.5,1088.0 Z" fill="#fff" stroke="#000" stroke-width="1.6" stroke-linejoin="round"/>
<rect x="232" y="1064" width="40" height="16" fill="#fff"/>
<text x="252" y="1078.5" fill="#000" color="#000" font-size="16" text-anchor="middle">down</text>
<line x1="791" y1="836" x2="791" y2="871" stroke="#ff0000" stroke-width="3.6"/>
<path d="M791.0,879.0 L783.8,865.5 L791.0,870.0 L798.2,865.5 Z" fill="#fff" stroke="#ff0000" stroke-width="3.2" stroke-linejoin="round"/>
<line x1="791" y1="941" x2="791" y2="976" stroke="#ff0000" stroke-width="3.6"/>
<path d="M791.0,984.0 L783.8,970.5 L791.0,975.0 L798.2,970.5 Z" fill="#fff" stroke="#ff0000" stroke-width="3.2" stroke-linejoin="round"/>
<line x1="791" y1="1046" x2="791" y2="1090" stroke="#ff0000" stroke-width="3.6"/>
<path d="M791.0,1098.0 L783.8,1084.5 L791.0,1089.0 L798.2,1084.5 Z" fill="#fff" stroke="#ff0000" stroke-width="3.2" stroke-linejoin="round"/>
<line x1="521" y1="1046" x2="521" y2="1094" stroke="#000" stroke-width="1.6"/>
<path d="M521.0,1099.0 L515.5,1088.0 L521.0,1091.0 L526.5,1088.0 Z" fill="#fff" stroke="#000" stroke-width="1.6" stroke-linejoin="round"/>
<line x1="161" y1="911" x2="200" y2="911" stroke="#000" stroke-width="1.6"/>
<path d="M205.0,911.0 L194.0,916.5 L197.0,911.0 L194.0,905.5 Z" fill="#fff" stroke="#000" stroke-width="1.6" stroke-linejoin="round"/>
<line x1="296" y1="911" x2="740" y2="911" stroke="#000" stroke-width="1.6"/>
<path d="M745.0,911.0 L734.0,916.5 L737.0,911.0 L734.0,905.5 Z" fill="#fff" stroke="#000" stroke-width="1.6" stroke-linejoin="round"/>
<line x1="161" y1="1016" x2="200" y2="1016" stroke="#000" stroke-width="1.6"/>
<path d="M205.0,1016.0 L194.0,1021.5 L197.0,1016.0 L194.0,1010.5 Z" fill="#fff" stroke="#000" stroke-width="1.6" stroke-linejoin="round"/>
<line x1="296" y1="1016" x2="470" y2="1016" stroke="#000" stroke-width="1.6"/>
<path d="M475.0,1016.0 L464.0,1021.5 L467.0,1016.0 L464.0,1010.5 Z" fill="#fff" stroke="#000" stroke-width="1.6" stroke-linejoin="round"/>
<rect x="371" y="1007" width="34" height="18" fill="#fff"/>
<text x="388" y="1022.8" fill="#000" color="#000" font-size="16" text-anchor="middle">right</text>
<line x1="566" y1="1016" x2="740" y2="1016" stroke="#000" stroke-width="1.6"/>
<path d="M745.0,1016.0 L734.0,1021.5 L737.0,1016.0 L734.0,1010.5 Z" fill="#fff" stroke="#000" stroke-width="1.6" stroke-linejoin="round"/>
<line x1="161" y1="1130" x2="200" y2="1130" stroke="#000" stroke-width="1.6"/>
<path d="M205.0,1130.0 L194.0,1135.5 L197.0,1130.0 L194.0,1124.5 Z" fill="#fff" stroke="#000" stroke-width="1.6" stroke-linejoin="round"/>
<line x1="296" y1="1130" x2="335" y2="1130" stroke="#000" stroke-width="1.6"/>
<path d="M340.0,1130.0 L329.0,1135.5 L332.0,1130.0 L329.0,1124.5 Z" fill="#fff" stroke="#000" stroke-width="1.6" stroke-linejoin="round"/>
<line x1="431" y1="1130" x2="470" y2="1130" stroke="#000" stroke-width="1.6"/>
<path d="M475.0,1130.0 L464.0,1135.5 L467.0,1130.0 L464.0,1124.5 Z" fill="#fff" stroke="#000" stroke-width="1.6" stroke-linejoin="round"/>
<line x1="566" y1="1130" x2="605" y2="1130" stroke="#000" stroke-width="1.6"/>
<path d="M610.0,1130.0 L599.0,1135.5 L602.0,1130.0 L599.0,1124.5 Z" fill="#fff" stroke="#000" stroke-width="1.6" stroke-linejoin="round"/>
<line x1="701" y1="1130" x2="740" y2="1130" stroke="#000" stroke-width="1.6"/>
<path d="M745.0,1130.0 L734.0,1135.5 L737.0,1130.0 L734.0,1124.5 Z" fill="#fff" stroke="#000" stroke-width="1.6" stroke-linejoin="round"/>
<line x1="1106" y1="1130" x2="1145" y2="1130" stroke="#000" stroke-width="1.6"/>
<path d="M1150.0,1130.0 L1139.0,1135.5 L1142.0,1130.0 L1139.0,1124.5 Z" fill="#fff" stroke="#000" stroke-width="1.6" stroke-linejoin="round"/>
<line x1="1241" y1="1130" x2="1280" y2="1130" stroke="#000" stroke-width="1.6"/>
<path d="M1285.0,1130.0 L1274.0,1135.5 L1277.0,1130.0 L1274.0,1124.5 Z" fill="#fff" stroke="#000" stroke-width="1.6" stroke-linejoin="round"/>
<line x1="836" y1="1130" x2="871" y2="1130" stroke="#ff0000" stroke-width="3.6"/>
<path d="M878.5,1130.0 L865.5,1136.5 L870.0,1130.0 L865.5,1123.5 Z" fill="#fff" stroke="#ff0000" stroke-width="3.2" stroke-linejoin="round"/>
<line x1="1061" y1="941" x2="1061" y2="980" stroke="#000" stroke-width="1.6" stroke-dasharray="4 3"/>
<path d="M1061.0,985.0 L1055.5,974.0 L1061.0,977.0 L1066.5,974.0 Z" fill="#fff" stroke="#000" stroke-width="1.6" stroke-linejoin="round"/>
<line x1="1061" y1="1046" x2="1061" y2="1094" stroke="#000" stroke-width="1.6" stroke-dasharray="4 3"/>
<path d="M1061.0,1099.0 L1055.5,1088.0 L1061.0,1091.0 L1066.5,1088.0 Z" fill="#fff" stroke="#000" stroke-width="1.6" stroke-linejoin="round"/>
<path d="M836,911 C900,910 975,905 985,892 C990,875 1010,866 1083,865 C1130,865 1148,872 1151,880 C1155,888 1200,892 1398,896" fill="none" stroke="#ff3333" stroke-width="3.6"/>
<path d="M1404.5,896.0 L1391.0,902.8 L1395.5,896.0 L1391.0,889.2 Z" fill="#fff" stroke="#ff3333" stroke-width="3" stroke-linejoin="round"/>
<path d="M836,1016 C900,1015 975,1010 985,997 C990,980 1010,971 1083,970 C1130,970 1148,977 1151,985 C1155,993 1200,997 1398,1001" fill="none" stroke="#ff3333" stroke-width="3.6"/>
<path d="M1404.5,1001.0 L1391.0,1007.8 L1395.5,1001.0 L1391.0,994.2 Z" fill="#fff" stroke="#ff3333" stroke-width="3" stroke-linejoin="round"/>
<line x1="1407" y1="776" x2="1407" y2="1160" stroke="#d6b656" stroke-width="6" stroke-linecap="round"/>
<path d="M926,1161 L926,1255 L1331,1255 L1331,1170" fill="none" stroke="#ff3333" stroke-width="2.8"/>
<path d="M1331.0,1163.0 L1337.5,1175.0 L1331.0,1171.0 L1324.5,1175.0 Z" fill="#fff" stroke="#ff3333" stroke-width="2.8" stroke-linejoin="round"/>
<line x1="1061" y1="1161" x2="1061" y2="1200" stroke="#ff3333" stroke-width="3.6"/>
<path d="M1061.0,1208.0 L1053.8,1194.5 L1061.0,1199.0 L1068.2,1194.5 Z" fill="#fff" stroke="#ff3333" stroke-width="3.2" stroke-linejoin="round"/>
<line x1="1196" y1="1161" x2="1196" y2="1200" stroke="#ff3333" stroke-width="3.6"/>
<path d="M1196.0,1208.0 L1188.8,1194.5 L1196.0,1199.0 L1203.2,1194.5 Z" fill="#fff" stroke="#ff3333" stroke-width="3.2" stroke-linejoin="round"/>
<text x="941" y="1187.22" fill="#ff3333" color="#ff3333" font-size="17.33" text-anchor="middle">b</text>
<text x="1076" y="1181.72" fill="#ff3333" color="#ff3333" font-size="17.33" text-anchor="middle">n</text>
<text x="1347" y="1186.72" fill="#ff3333" color="#ff3333" font-size="17.33" text-anchor="middle">f</text>
<text x="1063" y="1231.72" fill="#ff3333" color="#ff3333" font-size="17.33" text-anchor="middle">value <tspan letter-spacing="1.0">置</tspan> null</text>
<text x="1196" y="1232.72" fill="#ff3333" color="#ff3333" font-size="17.33" text-anchor="middle">value = this</text>
</g></svg>
</body></html>
